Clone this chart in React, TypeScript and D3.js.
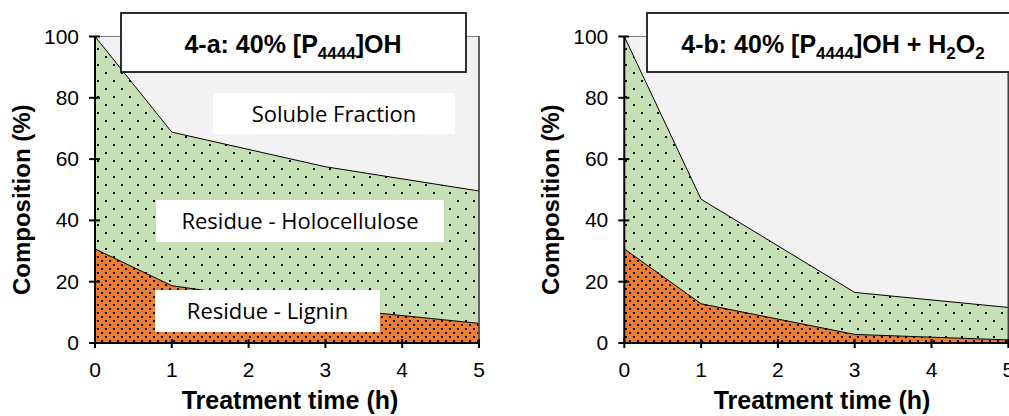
import React from "react";
import * as d3 from "d3";

const hours = [0, 1, 3, 5];
const ligninA = [30.7, 18.7, 11.5, 6.4];
const totalA = [100, 68.8, 57.5, 49.6];
const ligninB = [30.7, 12.8, 2.8, 1.0];
const totalB = [100, 46.9, 16.5, 11.6];
const yTicks = [0, 20, 40, 60, 80, 100];
const xTicks = [0, 1, 2, 3, 4, 5];
const yLabel = "Composition (%)";
const xLabel = "Treatment time (h)";

type PanelProps = {
  x0: number;
  lignin: number[];
  total: number[];
  titleParts: { text: string; sub?: boolean }[];
  titleBox: [number, number];
  titleCenter: number;
  xLabelCenter: number;
  regionLabels?: { text: string; box: [number, number, number, number] }[];
};

const Y0 = 343;
const Y100 = 36.5;
const HOUR = 76.8;

function Panel(p: PanelProps) {
  const x = d3.scaleLinear().domain([0, 5]).range([p.x0, p.x0 + 5 * HOUR]);
  const y = d3.scaleLinear().domain([0, 100]).range([Y0, Y100]);
  const green = d3
    .area<number>()
    .x((_, i) => x(hours[i]))
    .y0((_, i) => y(p.lignin[i]))
    .y1((d) => y(d));
  const orange = d3
    .area<number>()
    .x((_, i) => x(hours[i]))
    .y0(() => y(0))
    .y1((d) => y(d));
  const line = d3
    .line<number>()
    .x((_, i) => x(hours[i]))
    .y((d) => y(d));
  const [r0, r1] = x.range();
  return (
    <g>
      <rect x={r0} y={Y100} width={r1 - r0} height={Y0 - Y100} fill="#f2f2f2" stroke="#7f7f7f" strokeWidth={1} />
      <path d={green(p.total) || ""} fill="#c5e0b4" />
      <path d={green(p.total) || ""} fill="url(#dotsGreen)" />
      <path d={orange(p.lignin) || ""} fill="#ed7d31" />
      <path d={orange(p.lignin) || ""} fill="url(#dotsOrange)" />
      <path d={line(p.total) || ""} fill="none" stroke="#000" strokeWidth={1} />
      <path d={line(p.lignin) || ""} fill="none" stroke="#000" strokeWidth={1} />
      <line x1={r1} x2={r1} y1={Y100} y2={Y0} stroke="#404040" strokeWidth={1.5} />
      <line x1={r0} x2={r0} y1={Y100} y2={Y0} stroke="#000" strokeWidth={2} />
      <line x1={r0} x2={r1} y1={Y0} y2={Y0} stroke="#000" strokeWidth={2} />
      {yTicks.map((t) => (
        <g key={"y" + t}>
          <line x1={r0 - 6} x2={r0 + 5} y1={y(t)} y2={y(t)} stroke="#000" strokeWidth={2} />
          <text x={r0 - 16} y={y(t) + 7} textAnchor="end" fontSize={21} fontFamily="Liberation Sans, Arial, sans-serif" fill="#000">
            {t}
          </text>
        </g>
      ))}
      {xTicks.map((t) => (
        <g key={"x" + t}>
          <line x1={x(t)} x2={x(t)} y1={Y0 - 4} y2={Y0 + 5} stroke="#000" strokeWidth={2} />
          <text x={x(t)} y={377} textAnchor="middle" fontSize={21} fontFamily="Liberation Sans, Arial, sans-serif" fill="#000">
            {t}
          </text>
        </g>
      ))}
      <text
        transform={`translate(${r0 - 65},${(Y0 + Y100) / 2 + 10}) rotate(-90)`}
        textAnchor="middle"
        fontSize={24}
        fontWeight="bold"
        fontFamily="Liberation Sans, Arial, sans-serif"
        fill="#000"
      >
        {yLabel}
      </text>
      <text x={p.xLabelCenter} y={409} textAnchor="middle" fontSize={25} fontWeight="bold" fontFamily="Liberation Sans, Arial, sans-serif" fill="#000">
        {xLabel}
      </text>
      {(p.regionLabels || []).map((r) => (
        <g key={r.text}>
          <rect x={r.box[0]} y={r.box[1]} width={r.box[2] - r.box[0]} height={r.box[3] - r.box[1]} fill="#fff" />
          <text
            x={(r.box[0] + r.box[2]) / 2}
            y={(r.box[1] + r.box[3]) / 2 + 8}
            textAnchor="middle"
            fontSize={22}
            fontFamily="Open Sans, sans-serif"
            fill="#000"
          >
            {r.text}
          </text>
        </g>
      ))}
      <rect x={p.titleBox[0]} y={13} width={p.titleBox[1] - p.titleBox[0]} height={59} fill="#fff" stroke="#1a1a1a" strokeWidth={1.8} />
      <text x={p.titleCenter} y={53} textAnchor="middle" fontSize={25} fontWeight="bold" fontFamily="Liberation Sans, Arial, sans-serif" fill="#000">
        {p.titleParts.map((tp, i) => {
          const prevSub = i > 0 && p.titleParts[i - 1].sub;
          const dy = tp.sub ? 6 : prevSub ? -6 : 0;
          return (
            <tspan key={i} dy={dy} fontSize={tp.sub ? 17 : 25}>
              {tp.text}
            </tspan>
          );
        })}
      </text>
    </g>
  );
}

export default function App() {
  return (
    <svg width={1009} height={416} style={{ position: "absolute", left: 0, top: 0, background: "#fff" }}>
      <defs>
        <pattern id="dotsGreen" patternUnits="userSpaceOnUse" width={16} height={16}>
          <rect x={1} y={0} width={2} height={2} fill="#000" />
          <rect x={9} y={8} width={2} height={2} fill="#000" />
        </pattern>
        <pattern id="dotsOrange" patternUnits="userSpaceOnUse" width={8} height={8}>
          <rect x={1} y={0} width={2} height={2} fill="#000" />
          <rect x={5} y={4} width={2} height={2} fill="#000" />
        </pattern>
      </defs>
      <rect x={0} y={0} width={1009} height={416} fill="#fff" />
      <Panel
        x0={95}
        lignin={ligninA}
        total={totalA}
        titleParts={[{ text: "4-a: 40% [P" }, { text: "4444", sub: true }, { text: "]OH" }]}
        titleBox={[121, 466]}
        titleCenter={293}
        xLabelCenter={290}
        regionLabels={[
          { text: "Soluble Fraction", box: [213, 93, 455, 134] },
          { text: "Residue - Holocellulose", box: [156, 200, 444, 242] },
          { text: "Residue - Lignin", box: [155, 290, 380, 332] },
        ]}
      />
      <Panel
        x0={624.3}
        lignin={ligninB}
        total={totalB}
        titleParts={[
          { text: "4-b: 40% [P" },
          { text: "4444", sub: true },
          { text: "]OH + H" },
          { text: "2", sub: true },
          { text: "O" },
          { text: "2", sub: true },
        ]}
        titleBox={[647, 1030]}
        titleCenter={833}
        xLabelCenter={822}
      />
    </svg>
  );
}
